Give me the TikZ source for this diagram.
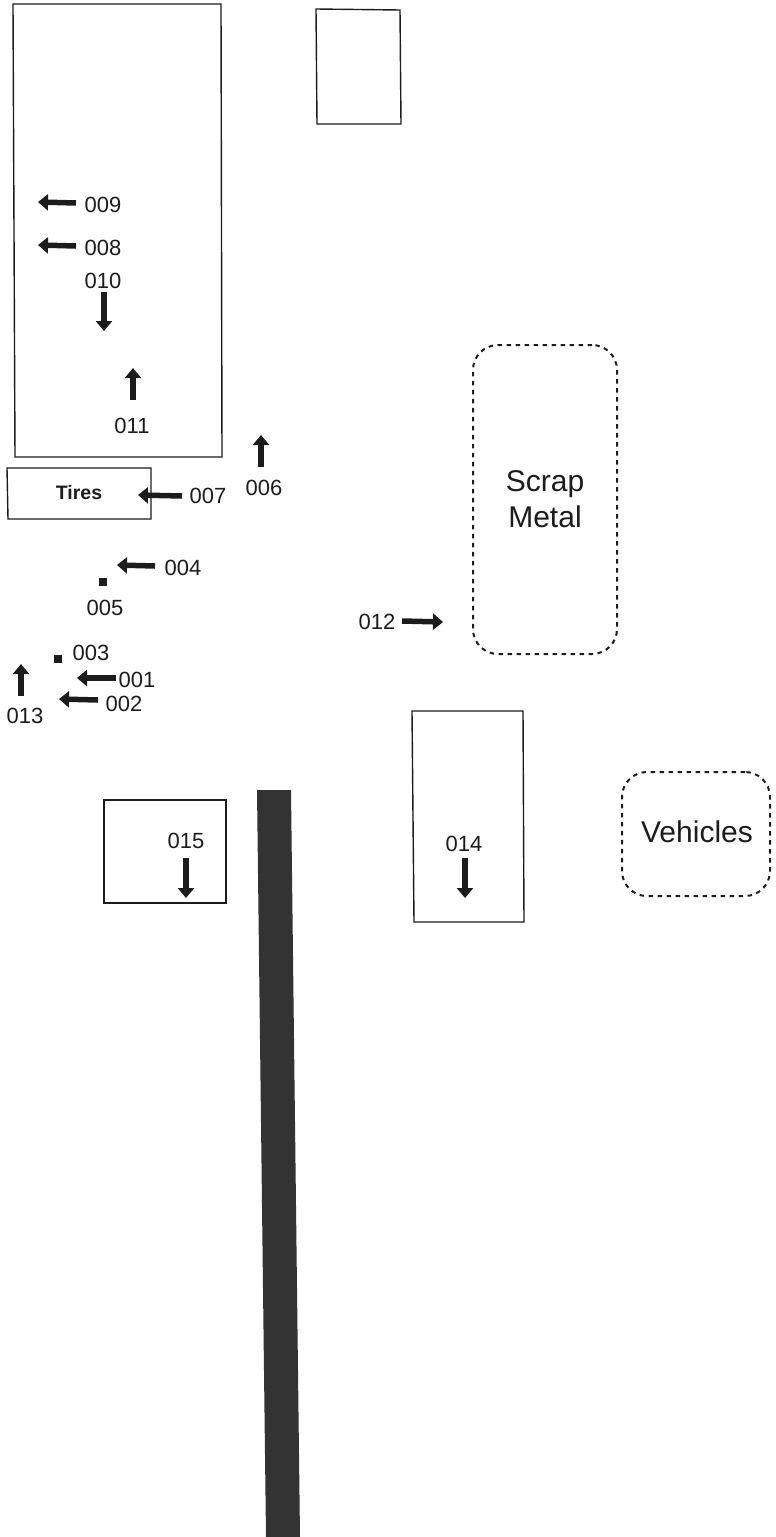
\documentclass[tikz,border=0pt]{standalone}
\usepackage{fontspec}
\setmainfont{Liberation Sans}
\usetikzlibrary{arrows.meta}
\definecolor{ink}{HTML}{1c1c1c}
\definecolor{roadgray}{HTML}{333333}
\tikzset{>={Triangle[width=16pt,length=10pt]}}
\tikzset{outline/.style={draw=ink,line width=1.4pt}}
\tikzset{dashbox/.style={draw=ink,line width=2pt,dash pattern=on 4.5pt off 4.5pt,rounded corners=25pt}}
\tikzset{flow/.style={->,draw=ink,fill=ink,line width=5.5pt}}
\tikzset{tag/.style={inner sep=0pt,font=\fontsize{22}{24}\selectfont,text=ink}}
\tikzset{word/.style={inner sep=0pt,align=center,font=\fontsize{30}{36}\selectfont,text=ink}}
\tikzset{marker/.style={draw=none,fill=ink,minimum size=8pt,inner sep=0pt}}

\begin{document}
\begin{tikzpicture}[x=1pt,y=-1pt]
  \useasboundingbox (0,0) rectangle (776,1537);

  % Buildings
  \draw[outline] (13,4) -- (221,4) -- (222,457) -- (15,457) -- cycle;
  \draw[outline] (316,9) -- (400,10) -- (401,124) -- (317,124) -- cycle;
  \draw[outline] (7,468) -- (151,468) -- (151,519) -- (8,519) -- cycle;
  \draw[outline] (412,711) -- (523,711) -- (524,922) -- (414,922) -- cycle;
  \draw[outline] (104,800) -- (226,800) -- (226,903) -- (104,903) -- cycle;

  % Road
  \fill[roadgray] (257,790) -- (291,790) -- (300,1537) -- (266,1537) -- cycle;

  % Areas
  \node[word,dashbox,minimum width=144pt,minimum height=309pt] (scrap) at (545,499.5) {Scrap\\Metal};
  \node[word,dashbox,minimum width=148pt,minimum height=124pt] (vehicles) at (696,834) {};
  \node[word] (vehiclesname) at (697,832) {Vehicles};
  \node[inner sep=0pt,font=\bfseries\fontsize{19.5}{22}\selectfont,text=ink] (tires) at (79,493) {Tires};

  % Points
  \node[marker] (p3) at (58,659) {};
  \node[marker] (p5) at (103,582) {};

  % Arrow ends
  \coordinate (t1) at (116,678);  \coordinate (h1) at (77,678);
  \coordinate (t2) at (98,700);   \coordinate (h2) at (59,699);
  \coordinate (t4) at (155,566);  \coordinate (h4) at (117,565);
  \coordinate (t6) at (261,467);  \coordinate (h6) at (261,435);
  \coordinate (t7) at (182,496);  \coordinate (h7) at (138,495);
  \coordinate (t8) at (76,246);   \coordinate (h8) at (38,245);
  \coordinate (t9) at (76,203);   \coordinate (h9) at (38,202);
  \coordinate (t10) at (104,292); \coordinate (h10) at (104,331);
  \coordinate (t11) at (133,400); \coordinate (h11) at (133,368);
  \coordinate (t12) at (402,621); \coordinate (h12) at (443,622);
  \coordinate (t13) at (21,696);  \coordinate (h13) at (21,664);
  \coordinate (t14) at (465,858); \coordinate (h14) at (465,898);
  \coordinate (t15) at (186,858); \coordinate (h15) at (186,898);

  % Arrows
  \draw[flow] (t1) -- (h1);
  \draw[flow] (t2) -- (h2);
  \draw[flow] (t4) -- (h4);
  \draw[flow] (t6) -- (h6);
  \draw[flow] (t7) -- (h7);
  \draw[flow] (t8) -- (h8);
  \draw[flow] (t9) -- (h9);
  \draw[flow] (t10) -- (h10);
  \draw[flow] (t11) -- (h11);
  \draw[flow] (t12) -- (h12);
  \draw[flow] (t13) -- (h13);
  \draw[flow] (t14) -- (h14);
  \draw[flow] (t15) -- (h15);

  % Labels
  \node[tag] (n1) at (137,680) {001};
  \node[tag] (n2) at (124,704) {002};
  \node[tag] (n3) at (91,653) {003};
  \node[tag] (n4) at (183,568) {004};
  \node[tag] (n5) at (105,608) {005};
  \node[tag] (n6) at (264,488) {006};
  \node[tag] (n7) at (208,496) {007};
  \node[tag] (n8) at (103,248) {008};
  \node[tag] (n9) at (103,205) {009};
  \node[tag] (n10) at (103,281) {010};
  \node[tag] (n11) at (132,426) {011};
  \node[tag] (n12) at (377,622) {012};
  \node[tag] (n13) at (25,716) {013};
  \node[tag] (n14) at (464,844) {014};
  \node[tag] (n15) at (186,841) {015};
\end{tikzpicture}
\end{document}
